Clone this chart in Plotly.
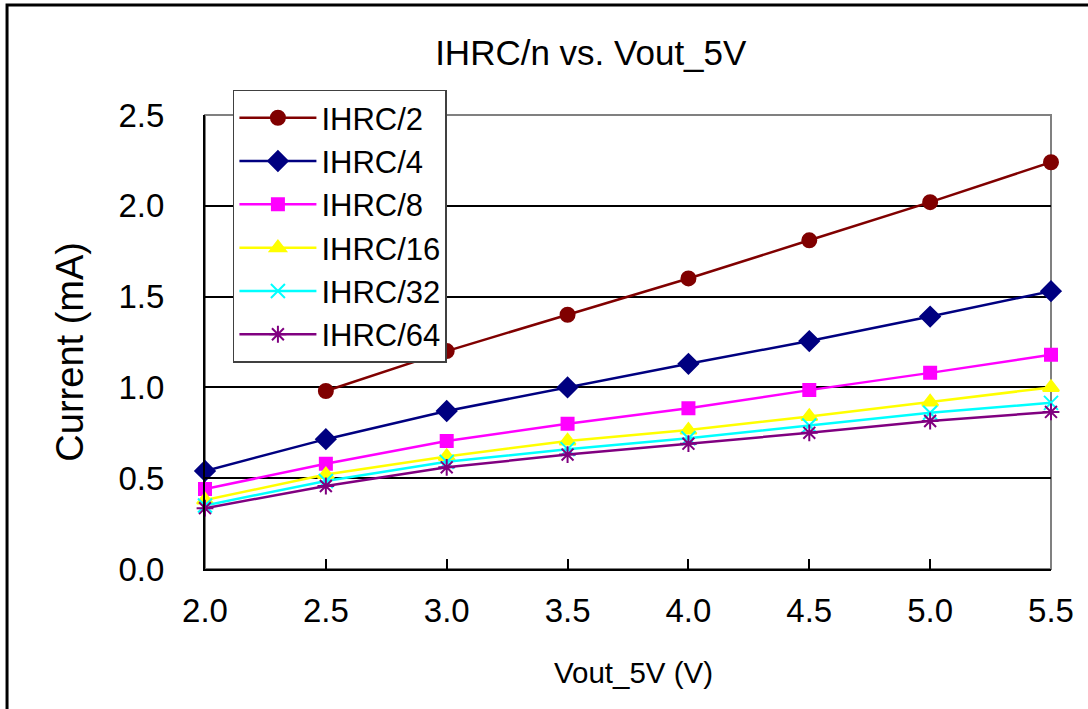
import plotly.graph_objects as go

vout = [2.0, 2.5, 3.0, 3.5, 4.0, 4.5, 5.0, 5.5]

ihrc_2 = [None, 0.98, 1.20, 1.40, 1.60, 1.81, 2.02, 2.24]
ihrc_4 = [0.54, 0.715, 0.87, 1.00, 1.13, 1.255, 1.39, 1.53]
ihrc_8 = [0.44, 0.58, 0.705, 0.80, 0.885, 0.985, 1.08, 1.18]
ihrc_16 = [0.38, 0.52, 0.62, 0.705, 0.765, 0.84, 0.92, 1.00]
ihrc_32 = [0.35, 0.485, 0.59, 0.66, 0.72, 0.79, 0.86, 0.915]
ihrc_64 = [0.335, 0.457, 0.56, 0.63, 0.69, 0.75, 0.815, 0.865]

series = [
    ("IHRC/2", ihrc_2, "#800000", "circle", 14),
    ("IHRC/4", ihrc_4, "#000080", "diamond", 15),
    ("IHRC/8", ihrc_8, "#FF00FF", "square", 12),
    ("IHRC/16", ihrc_16, "#FFFF00", "triangle-up", 14),
    ("IHRC/32", ihrc_32, "#00FFFF", "x-thin-open", 14),
    ("IHRC/64", ihrc_64, "#800080", "asterisk-open", 14),
]

FONT = "Liberation Sans, Arial, sans-serif"

fig = go.Figure()
for name, vals, color, symbol, size in series:
    fig.add_trace(go.Scatter(
        x=vout, y=vals, name=name, mode="lines+markers",
        line=dict(color=color, width=2.5),
        marker=dict(symbol=symbol, size=size, color=color,
                    line=dict(color=color, width=2)),
        cliponaxis=False,
    ))

fig.update_layout(
    width=1088, height=709,
    margin=dict(l=205, r=37, t=115, b=140),
    paper_bgcolor="white", plot_bgcolor="white",
    font=dict(family=FONT, color="black"),
    showlegend=True,
    legend=dict(
        x=0.033, y=1.056, xanchor="left", yanchor="top",
        bgcolor="white", bordercolor="#404040", borderwidth=1.5,
        font=dict(size=31, family=FONT), itemwidth=77,
    ),
    title=dict(text="IHRC/n vs. Vout_5V", x=0.543, y=0.925,
               xanchor="center", yanchor="middle",
               font=dict(size=35, family=FONT)),
)

fig.update_xaxes(
    range=[2.0, 5.5], dtick=0.5, tickformat=".1f",
    showgrid=False, zeroline=False,
    showline=True, linecolor="black", linewidth=2,
    ticks="inside", ticklen=10, tickcolor="black", tickwidth=1.5,
    tickfont=dict(size=33), ticklabelstandoff=11,
)
fig.update_yaxes(
    range=[0, 2.5], dtick=0.5, tickformat=".1f",
    showgrid=True, gridcolor="black", gridwidth=1.5, zeroline=False,
    showline=True, linecolor="black", linewidth=2,
    ticks="inside", ticklen=10, tickcolor="black", tickwidth=1.5,
    tickfont=dict(size=33), ticklabelstandoff=32,
)

# plot area border (grey top/right)
fig.add_shape(type="rect", xref="paper", yref="paper", x0=0, x1=1, y0=0, y1=1,
              line=dict(color="#808080", width=2), layer="below")
# outer chart frame
fig.add_shape(type="rect", xref="paper", yref="paper",
              x0=-0.234, x1=1.2, y0=-0.5, y1=1.2423,
              line=dict(color="black", width=3), layer="below")

fig.add_annotation(text="Current (mA)", xref="paper", yref="paper",
                   x=-0.16, y=0.478, textangle=-90, showarrow=False,
                   xanchor="center", yanchor="middle", font=dict(size=38))
fig.add_annotation(text="Vout_5V (V)", xref="paper", yref="paper",
                   x=0.506, y=-0.228, showarrow=False,
                   xanchor="center", yanchor="middle", font=dict(size=29.5))

fig.write_html("out.html", config={"displayModeBar": False},
               post_script="document.body.style.margin='0';")
